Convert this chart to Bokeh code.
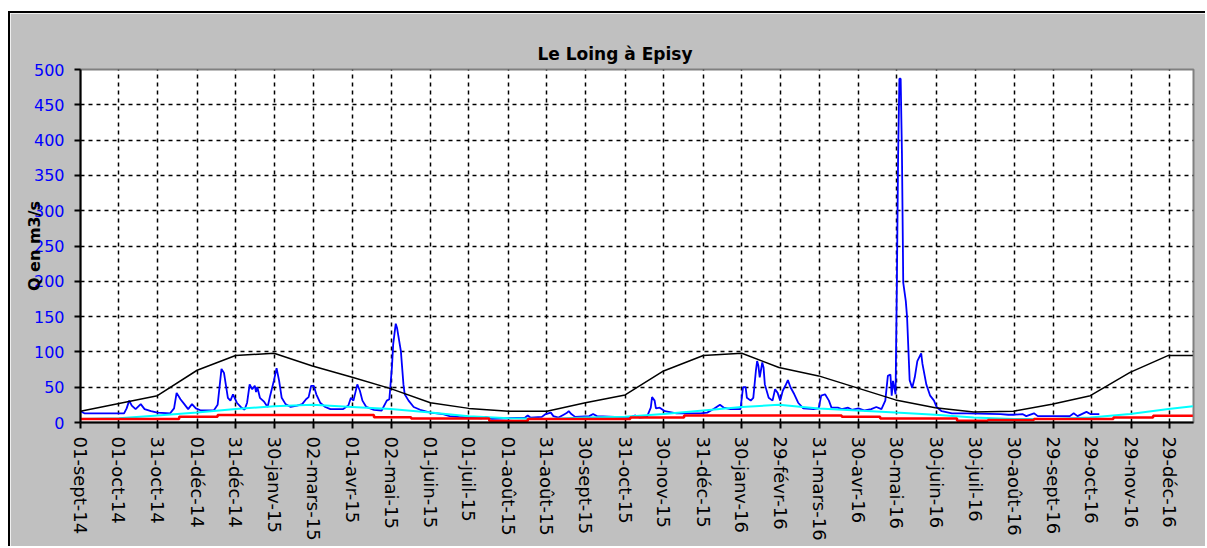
import math
import pandas as pd
from bokeh.plotting import figure
from bokeh.models import Range1d, FixedTicker
from bokeh.embed import file_html
from bokeh.resources import INLINE

# ---------------- data ----------------
START = "2014-09-01"   # x values below are days since this date

tick_dates = ["2014-09-01", "2014-10-01", "2014-10-31", "2014-12-01", "2014-12-31",
              "2015-01-30", "2015-03-02", "2015-04-01", "2015-05-02", "2015-06-01",
              "2015-07-01", "2015-08-01", "2015-08-31", "2015-09-30", "2015-10-31",
              "2015-11-30", "2015-12-31", "2016-01-30", "2016-02-29", "2016-03-31",
              "2016-04-30", "2016-05-30", "2016-06-30", "2016-07-30", "2016-08-30",
              "2016-09-29", "2016-10-29", "2016-11-29", "2016-12-29"]
tick_labels = ["01-sept-14", "01-oct-14", "31-oct-14", "01-déc-14", "31-déc-14",
               "30-janv-15", "02-mars-15", "01-avr-15", "02-mai-15", "01-juin-15",
               "01-juil-15", "01-août-15", "31-août-15", "30-sept-15", "31-oct-15",
               "30-nov-15", "31-déc-15", "30-janv-16", "29-févr-16", "31-mars-16",
               "30-avr-16", "30-mai-16", "30-juin-16", "30-juil-16", "30-août-16",
               "29-sept-16", "29-oct-16", "29-nov-16", "29-déc-16"]
y_ticks = [0, 50, 100, 150, 200, 250, 300, 350, 400, 450, 500]

# daily discharge (blue)
blue_day = [0, 3, 34, 36, 38, 40, 43, 47, 50, 55, 60, 70, 73, 75, 78, 81, 84, 87, 90, 94,
            104, 107, 110, 112, 115, 117, 119, 122, 125, 128, 130, 132, 134, 136, 137, 138,
            140, 143, 146, 148, 151, 153, 155, 157, 160, 164, 169, 173, 176, 178, 180, 182,
            184, 187, 191, 195, 205, 209, 211, 213, 216, 218, 220, 223, 229, 235, 239, 241,
            243, 244, 246, 247, 248, 250, 252, 253, 256, 260, 265, 273, 283, 288, 295, 304,
            313, 316, 321, 334, 347, 349, 351, 360, 363, 367, 369, 373, 377, 379, 381, 383,
            386, 397, 400, 403, 417, 430, 433, 436, 442, 445, 446, 448, 449, 452, 456, 465,
            484, 489, 494, 499, 502, 507, 515, 517, 519, 520, 523, 525, 527, 528, 529, 530,
            532, 533, 534, 537, 540, 542, 544, 546, 548, 550, 552, 554, 557, 560, 564, 572,
            576, 578, 581, 584, 586, 591, 594, 599, 602, 607, 612, 617, 621, 625, 628, 630,
            632, 633, 634, 636, 637, 638, 639, 640, 641, 642, 644, 645, 647, 649, 651, 653,
            656, 657, 660, 663, 666, 668, 672, 680, 692, 718, 724, 728, 735, 738, 744, 747,
            772, 775, 778, 785, 788, 795]
blue_val = [16, 13, 13, 20, 31, 24, 19, 26, 19, 16, 14, 13, 20, 42, 33, 26, 19, 26, 20, 17,
            17, 25, 76, 70, 35, 31, 40, 28, 22, 18, 28, 54, 47, 52, 43, 50,
            35, 30, 22, 38, 60, 77, 59, 35, 26, 22, 24, 26, 33, 36, 52, 52,
            40, 28, 22, 19, 19, 24, 35, 31, 54, 45, 31, 22, 18, 17, 31, 33,
            78, 111, 140, 134, 123, 101, 54, 40, 31, 22, 18, 14, 12, 9, 8, 7,
            6, 8, 5, 6, 7, 10, 7, 8, 12, 14, 9, 7, 11, 13, 16, 12,
            8, 9, 12, 9, 8, 8, 10, 7, 8, 21, 36, 31, 20, 21, 16, 13,
            13, 14, 19, 25, 21, 19, 19, 50, 50, 35, 31, 35, 73, 87, 80, 64,
            85, 78, 54, 35, 31, 47, 42, 31, 45, 52, 60, 50, 40, 28, 20, 19,
            20, 38, 40, 31, 21, 21, 19, 21, 18, 20, 17, 19, 22, 19, 31, 66,
            68, 38, 59, 40, 191, 378, 487, 487, 380, 198, 172, 149, 60, 49, 64, 87,
            98, 83, 54, 38, 31, 22, 16, 13, 13, 12, 11, 11, 12, 9, 13, 9,
            9, 13, 9, 15, 12, 12]

# interannual monthly mean (black)
black_day = [0, 30, 60, 91, 121, 151, 181, 212, 242, 273, 303, 334, 364, 394, 425,
             455, 486, 516, 545, 576, 606, 636, 667, 697, 728, 758, 788, 819, 849, 868]
black_val = [16, 27, 38, 74, 95, 98, 80, 64, 48, 28, 20, 16, 16, 28, 39,
             73, 95, 98, 78, 66, 49, 32, 21, 15, 16, 26, 38, 71, 95, 95]

# cyan series
cyan_day = [0, 30, 60, 91, 121, 151, 181, 212, 242, 273, 303, 334, 364, 394, 425,
            455, 486, 516, 545, 576, 606, 636, 667, 697, 728, 758, 788, 819, 849, 868]
cyan_val = [5, 6, 10, 14, 19, 23, 25, 22, 19, 14, 9, 6, 5, 7, 8,
            12, 17, 22, 25, 20, 17, 14, 11, 7, 5, 5, 7, 12, 19, 23]

# red series (steps)
red_day = [0, 77, 107, 229, 258, 319, 349, 429, 471, 594, 624, 684, 708, 744, 806, 837, 868]
red_val = [5, 8, 10.5, 7.5, 5.5, 2, 5, 7, 10, 8, 5.5, 2.5, 3.5, 5, 7, 9.5, 9.5]

# ---------------- figure ----------------
start = pd.Timestamp(START)
tick_pos = [(pd.Timestamp(d) - start).days for d in tick_dates]

FONT = "DejaVu Sans"

p = figure(width=1197, height=535,
           x_range=Range1d(0, 868.5), y_range=Range1d(0, 500),
           output_backend="svg", toolbar_location=None,
           min_border_left=70, min_border_right=14, min_border_top=56, min_border_bottom=126,
           background_fill_color="white", border_fill_color="#C0C0C0")
p.styles = {"margin-left": "8px", "margin-top": "11px",
            "border-top": "2px solid black", "border-left": "2px solid black"}

p.title.text = "Le Loing à Episy"
p.title.align = "left"
p.title.offset = 457
p.title.standoff = 12
p.title.text_font = FONT
p.title.text_font_size = "17px"
p.title.text_font_style = "bold"
p.title.text_color = "black"

p.outline_line_color = "#808080"
p.outline_line_width = 2

# x axis
p.xaxis.ticker = FixedTicker(ticks=tick_pos)
p.xaxis.major_label_overrides = {t: lab for t, lab in zip(tick_pos, tick_labels)}
p.xaxis.major_label_orientation = -math.pi / 2
p.xaxis.major_label_text_font = FONT
p.xaxis.major_label_text_font_size = "18px"
p.xaxis.major_label_text_color = "black"
p.xaxis.major_label_standoff = 8

# y axis
p.yaxis.ticker = FixedTicker(ticks=y_ticks)
p.yaxis.major_label_text_font = FONT
p.yaxis.major_label_text_font_size = "16px"
p.yaxis.major_label_text_color = "#0000FF"
p.yaxis.major_label_standoff = 10
p.yaxis.axis_label = "Q en m3/s"
p.yaxis.axis_label_text_font = FONT
p.yaxis.axis_label_text_font_size = "16px"
p.yaxis.axis_label_text_font_style = "bold"
p.yaxis.axis_label_text_color = "black"
p.yaxis.axis_label_standoff = -13

for ax in (p.xaxis, p.yaxis):
    ax.axis_line_color = "black"
    ax.axis_line_width = 2
    ax.major_tick_line_color = "black"
    ax.major_tick_line_width = 2
    ax.major_tick_out = 6
    ax.major_tick_in = 0
    ax.minor_tick_line_color = None

for g in (p.xgrid, p.ygrid):
    g.grid_line_color = "black"
    g.grid_line_dash = "4 4"
    g.grid_line_width = 1.5

# series
p.line(blue_day, blue_val, line_color="#0000FF", line_width=1.8)
p.line(cyan_day, cyan_val, line_color="#00FFFF", line_width=2)
p.step(red_day, red_val, mode="after", line_color="#FF0000", line_width=2.5)
p.line(black_day, black_val, line_color="black", line_width=1.5)

open("out.html", "w").write(file_html(p, INLINE))
